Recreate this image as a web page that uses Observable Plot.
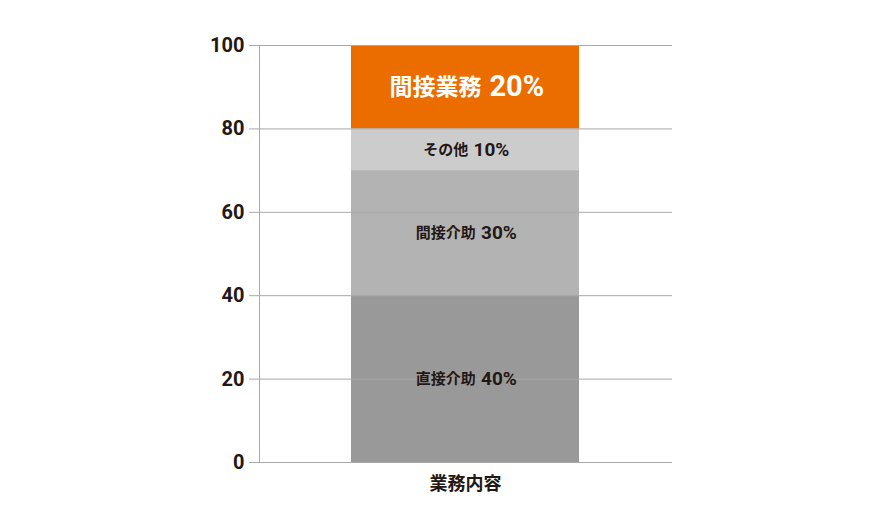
<!DOCTYPE html>
<html><head><meta charset="utf-8">
<script src="https://cdn.jsdelivr.net/npm/d3@7"></script>
<script src="https://cdn.jsdelivr.net/npm/@observablehq/plot@0.6"></script>
<style>body{margin:0;background:#fff;}#chart svg{display:block;}</style>
</head><body><div id="chart"></div>
<script>
const category = "業務内容";
const segments = ["直接介助", "間接介助", "その他", "間接業務"];
const values = [40, 30, 10, 20];
const colors = ["#999999", "#b3b3b3", "#cccccc", "#eb6d00"];
const labelColors = ["#231815", "#231815", "#231815", "#ffffff"];
const nameSizes = [15, 15, 15, 23];
const numSizes = [19, 19, 19, 29];
const yTicks = [0, 20, 40, 60, 80, 100];

const data = segments.map((s, i) => ({category, segment: s, value: values[i]}));
let acc = 0;
const mids = values.map(v => { const m = acc + v / 2; acc += v; return m; });

const labelMarks = [];
segments.forEach((s, i) => {
  const num = values[i] + "%";
  const nameW = s.length * nameSizes[i];
  const numW = num.length * 0.6 * numSizes[i];
  const gap = nameSizes[i] * 0.35;
  const total = nameW + gap + numW;
  const nameEnd = -total / 2 + nameW;
  const d = [{category, y: mids[i]}];
  labelMarks.push(Plot.text(d, {
    x: "category", y: "y", text: () => s, textAnchor: "end", dx: nameEnd,
    fill: labelColors[i], fontSize: nameSizes[i], fontWeight: "bold",
    fontFamily: "'Noto Sans CJK JP', sans-serif"
  }));
  labelMarks.push(Plot.text(d, {
    x: "category", y: "y", text: () => num, textAnchor: "start", dx: nameEnd + gap,
    fill: labelColors[i], fontSize: numSizes[i], fontWeight: "bold",
    fontFamily: "Roboto, sans-serif"
  }));
});

const chart = Plot.plot({
  width: 872,
  height: 512,
  marginLeft: 259,
  marginRight: 200,
  marginTop: 45,
  marginBottom: 50,
  style: {background: "#fff", color: "#231815"},
  x: {domain: [category], padding: 0.287, label: null},
  y: {domain: [0, 100], label: null},
  color: {domain: segments, range: colors},
  marks: [
    Plot.barY(data, {x: "category", y: "value", fill: "segment", order: segments}),
    Plot.ruleY(yTicks, {stroke: "#a8a8a8", strokeWidth: 1}),
    Plot.frame({anchor: "left", stroke: "#a8a8a8"}),
    Plot.axisY({ticks: yTicks, tickSize: 10, tickPadding: 5, stroke: "#a8a8a8",
      fontSize: 20, fontWeight: "bold", fontFamily: "Roboto, sans-serif", fill: "#231815", label: null}),
    Plot.axisX({tickSize: 0, tickPadding: 15, fontSize: 18, fontWeight: "bold",
      fontFamily: "'Noto Sans CJK JP', sans-serif", fill: "#231815", label: null}),
    ...labelMarks
  ]
});
document.getElementById("chart").append(chart);
</script>
</body></html>
